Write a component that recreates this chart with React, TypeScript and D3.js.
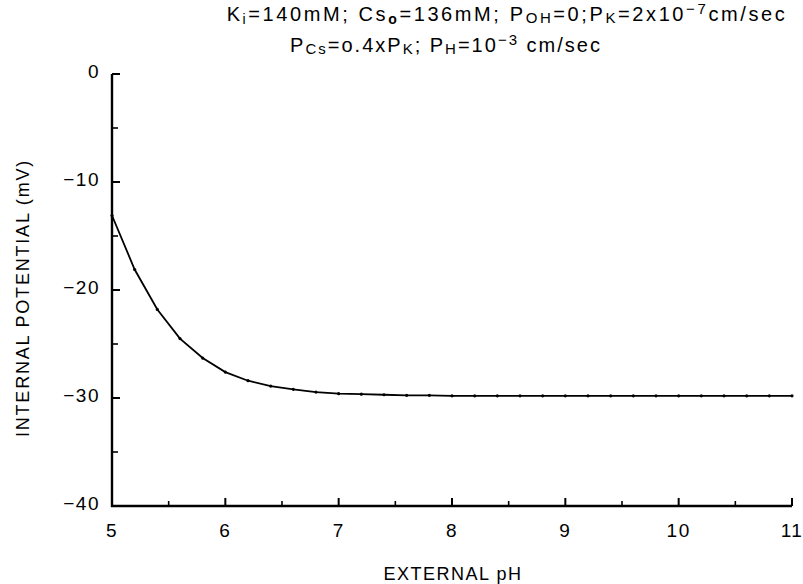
import React from "react";
import * as d3 from "d3";

// curve, one point every 0.2 pH unit
const phValues = [
  5.0, 5.2, 5.4, 5.6, 5.8, 6.0, 6.2, 6.4, 6.6, 6.8, 7.0, 7.2, 7.4, 7.6, 7.8, 8.0,
  8.2, 8.4, 8.6, 8.8, 9.0, 9.2, 9.4, 9.6, 9.8, 10.0, 10.2, 10.4, 10.6, 10.8, 11.0,
];
const potentialValues = [
  -13.1, -18.1, -21.8, -24.5, -26.3, -27.6, -28.4, -28.9, -29.2, -29.45, -29.6,
  -29.65, -29.7, -29.75, -29.75, -29.8, -29.8, -29.8, -29.8, -29.8, -29.8,
  -29.8, -29.8, -29.8, -29.8, -29.8, -29.8, -29.8, -29.8, -29.8, -29.8,
];

const xTickValues = [5, 6, 7, 8, 9, 10, 11];
const xMinorTicks = [5.5, 6.5, 7.5, 8.5, 9.5, 10.5];
const yTickValues = [0, -10, -20, -30, -40];
const yMinorTicks = [-5, -15, -25, -35];

const W = 803;
const H = 584;
const FONT = "'Liberation Sans', Arial, Helvetica, sans-serif";

export default function App() {
  const x = d3.scaleLinear().domain([5, 11]).range([112, 792]);
  const y = d3.scaleLinear().domain([-40, 0]).range([506, 74]);

  const pts: [number, number][] = phValues.map((p, i) => [p, potentialValues[i]]);
  const line = d3
    .line<[number, number]>()
    .x((d) => x(d[0]))
    .y((d) => y(d[1]));

  const x0 = x(5);
  const y0 = y(-40);
  const minus = (v: number) => (v < 0 ? "\u2212" + Math.abs(v) : String(v));

  return (
    <svg
      width={W}
      height={H}
      style={{ position: "absolute", left: 0, top: 0, background: "#fff" }}
      fontFamily={FONT}
    >
      {/* title */}
      <text x={507} y={21} textAnchor="middle" fontSize={20} letterSpacing={2.6} fill="#000">
        K<tspan fontSize={14} dy={3}>i</tspan>
        <tspan dy={-3}>=140mM; Cs</tspan>
        <tspan fontSize={14} fontWeight="bold" dy={3}>o</tspan>
        <tspan dy={-3}>=136mM; P</tspan>
        <tspan fontSize={15} dy={2}>OH</tspan>
        <tspan dy={-2}>=0;P</tspan>
        <tspan fontSize={15} dy={2}>K</tspan>
        <tspan dy={-2}>=2x10</tspan>
        <tspan fontSize={15} dy={-7}>{"\u22127"}</tspan>
        <tspan dy={7}>cm/sec</tspan>
      </text>
      <text x={446} y={52} textAnchor="middle" fontSize={20} letterSpacing={2.0} fill="#000">
        P<tspan fontSize={15} dy={2}>Cs</tspan>
        <tspan dy={-2}>=o.4xP</tspan>
        <tspan fontSize={15} dy={2}>K</tspan>
        <tspan dy={-2}>; P</tspan>
        <tspan fontSize={15} dy={2}>H</tspan>
        <tspan dy={-2}>=10</tspan>
        <tspan fontSize={15} dy={-7}>{"\u22123"}</tspan>
        <tspan dy={7}> cm/sec</tspan>
      </text>

      {/* axes */}
      <path
        d={`M${x0},${y(0)}V${y0}H${x(11)}`}
        fill="none"
        stroke="#000"
        strokeWidth={2.4}
      />
      {yTickValues.map((v) => (
        <g key={"yt" + v}>
          <line x1={x0} x2={x0 + 8} y1={y(v)} y2={y(v)} stroke="#000" strokeWidth={2} />
          <text
            x={100}
            y={y(v) + 4}
            textAnchor="end"
            fontSize={19}
            letterSpacing={1.5}
            fill="#000"
          >
            {minus(v)}
          </text>
        </g>
      ))}
      {yMinorTicks.map((v) => (
        <line key={"ym" + v} x1={x0} x2={x0 + 6} y1={y(v)} y2={y(v)} stroke="#000" strokeWidth={1.6} />
      ))}
      {xTickValues.map((v) => (
        <g key={"xt" + v}>
          <line x1={x(v)} x2={x(v)} y1={y0} y2={y0 - 8} stroke="#000" strokeWidth={2} />
          <text
            x={x(v)}
            y={y0 + 31}
            textAnchor="middle"
            fontSize={19}
            letterSpacing={1.5}
            fill="#000"
          >
            {v}
          </text>
        </g>
      ))}
      {xMinorTicks.map((v) => (
        <line key={"xm" + v} x1={x(v)} x2={x(v)} y1={y0} y2={y0 - 5} stroke="#000" strokeWidth={1.6} />
      ))}

      {/* axis titles */}
      <text
        transform={`translate(29,298) rotate(-90)`}
        textAnchor="middle"
        fontSize={18}
        letterSpacing={1.8}
        fill="#000"
      >
        INTERNAL POTENTIAL (mV)
      </text>
      <text x={453} y={580} textAnchor="middle" fontSize={18} letterSpacing={1.5} fill="#000">
        EXTERNAL pH
      </text>

      {/* curve */}
      <path d={line(pts) ?? ""} fill="none" stroke="#000" strokeWidth={1.8} />
      {pts.map((d, i) => (
        <circle key={i} cx={x(d[0])} cy={y(d[1])} r={1.6} fill="#000" />
      ))}
    </svg>
  );
}
